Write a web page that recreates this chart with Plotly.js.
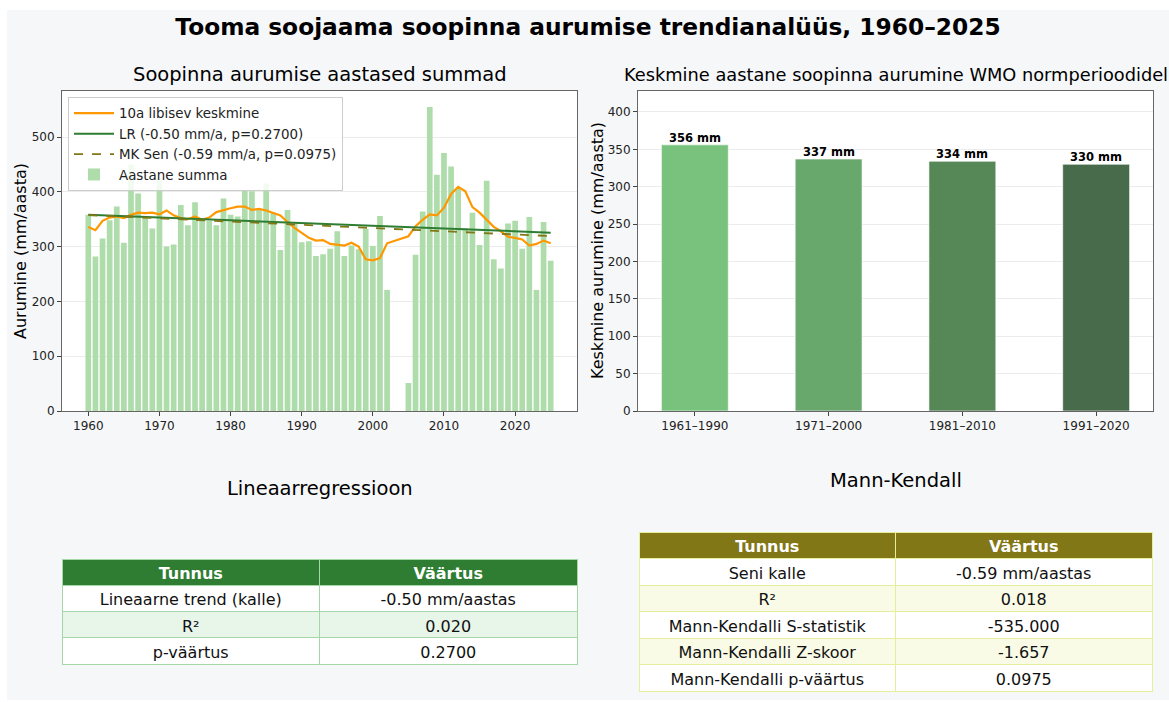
<!DOCTYPE html>
<html>
<head>
<meta charset="utf-8">
<script src="https://cdn.plot.ly/plotly-3.0.1.min.js"></script>
<style>
html,body{margin:0;padding:0;background:#ffffff;width:1169px;height:702px;overflow:hidden;}
#chart{position:absolute;left:7px;top:10px;width:1162px;height:690px;}
</style>
</head>
<body>
<div id="chart"></div>
<script>
// ---------- data ----------
const years = [1960,1961,1962,1963,1964,1965,1966,1967,1968,1969,
  1970,1971,1972,1973,1974,1975,1976,1977,1978,1979,
  1980,1981,1982,1983,1984,1985,1986,1987,1988,1989,
  1990,1991,1992,1993,1994,1995,1996,1997,1998,1999,
  2000,2001,2002,2003,2004,2005,2006,2007,2008,2009,
  2010,2011,2012,2013,2014,2015,2016,2017,2018,2019,
  2020,2021,2022,2023,2024,2025];
const annualSum = [358,282,315,348,373,307,450,397,355,333,
  425,300,304,376,339,381,351,347,339,388,
  358,355,404,401,367,415,362,294,367,345,
  308,310,283,286,296,328,283,302,295,332,
  301,356,221,null,null,51,285,364,555,431,
  471,446,405,333,362,303,420,277,260,342,
  347,296,354,221,345,274];
// 10-year moving average (years with data only)
const maYears = [1960,1961,1962,1963,1964,1965,1966,1967,1968,1969,
  1970,1971,1972,1973,1974,1975,1976,1977,1978,1979,
  1980,1981,1982,1983,1984,1985,1986,1987,1988,1989,
  1990,1991,1992,1993,1994,1995,1996,1997,1998,1999,
  2000,2001,2002,2005,2006,2007,2008,2009,
  2010,2011,2012,2013,2014,2015,2016,2017,2018,2019,
  2020,2021,2022,2023,2024,2025];
const movingAvg = [336,330,347,353,355,352,358,362,361,362,
  359,366,357,352,350,355,349,353,363,367,
  370,373,373,367,369,366,362,357,345,334,
  325,316,311,312,305,303,302,307,300,277,
  275,279,306,319,337,349,359,357,
  371,396,409,401,372,362,349,336,328,318,
  316,313,302,305,311,306];
const trendYears = [1960, 2025];
const lrTrend = [358, 325.5];
const senTrend = [357.5, 319.2];

const periods = ['1961–1990','1971–2000','1981–2010','1991–2020'];
const periodMeans = [356, 337, 334, 330];
const periodColors = ['#79c27d','#69a86d','#558757','#486b4c'];

const lrHeader = ['Tunnus','Väärtus'];
const lrNames = ['Lineaarne trend (kalle)','R²','p-väärtus'];
const lrValues = ['-0.50 mm/aastas','0.020','0.2700'];
const mkHeader = ['Tunnus','Väärtus'];
const mkNames = ['Seni kalle','R²','Mann-Kendalli S-statistik','Mann-Kendalli Z-skoor','Mann-Kendalli p-väärtus'];
const mkValues = ['-0.59 mm/aastas','0.018','-535.000','-1.657','0.0975'];

// ---------- helpers ----------
const W = 1162, H = 690;
const px = x => (x - 7) / W;
const py = y => 1 - (y - 10) / H;
const FONT = 'DejaVu Sans, sans-serif';

function tableTrace(header, names, vals, headColor, stripe, lineColor, x0, x1, yTop, rowH) {
  const fills = names.map((_, i) => (i % 2 === 1 ? stripe : '#ffffff'));
  return {type:'table', domain:{x:[px(x0), px(x1)], y:[0, py(yTop)]}, columnwidth:[1,1],
    header:{values:[[header[0]], [header[1]]], height:rowH, align:'center',
      fill:{color:headColor}, line:{color:lineColor, width:1},
      font:{family:FONT, size:16, color:'#ffffff', weight:'bold'}},
    cells:{values:[names, vals], height:rowH, align:'center',
      fill:{color:[fills, fills]}, line:{color:lineColor, width:1},
      font:{family:FONT, size:16, color:'#111111'}}};
}

const traces = [
  {type:'scatter', mode:'lines', x: maYears, y: movingAvg, name:'10a libisev keskmine',
   line:{color:'#ff9800', width:2.2}, xaxis:'x', yaxis:'y'},
  {type:'scatter', mode:'lines', x: trendYears, y: lrTrend, name:'LR (-0.50 mm/a, p=0.2700)',
   line:{color:'#2e7d32', width:2}, xaxis:'x', yaxis:'y'},
  {type:'scatter', mode:'lines', x: trendYears, y: senTrend, name:'MK Sen (-0.59 mm/a, p=0.0975)',
   line:{color:'#827717', width:1.8, dash:'dash'}, xaxis:'x', yaxis:'y'},
  {type:'bar', x: years, y: annualSum, name:'Aastane summa', width:0.8,
   marker:{color:'#aedcaa', line:{width:0}}, xaxis:'x', yaxis:'y'},
  {type:'bar', x: periods, y: periodMeans, width:0.5, showlegend:false,
   marker:{color: periodColors, line:{color:'rgba(255,255,255,0.6)', width:1}},
   xaxis:'x2', yaxis:'y2'},
  tableTrace(lrHeader, lrNames, lrValues, '#2e7d32', '#e8f5e9', '#a5d6a7', 62, 577, 559, 26.25),
  tableTrace(mkHeader, mkNames, mkValues, '#827717', '#f9fbe7', '#e6ee9c', 639, 1153, 532, 26.5)
];

const axisCommon = {showline:true, mirror:true, linecolor:'#666', linewidth:1, ticks:'outside', ticklen:4,
  tickcolor:'#444', tickfont:{family:FONT, size:12, color:'#222'}, zeroline:false, automargin:false};

const barLabels = periods.map((p, i) => ({
  text:'<b>' + periodMeans[i] + ' mm</b>', x:p, y:periodMeans[i], xref:'x2', yref:'y2',
  showarrow:false, xanchor:'center', yanchor:'bottom', yshift:-2,
  font:{family:FONT, size:11.5, color:'#000'}
}));

const layout = {
  width: W, height: H,
  margin:{l:0, r:0, t:0, b:0},
  paper_bgcolor:'#f6f7f9', plot_bgcolor:'#ffffff',
  font:{family:FONT, color:'#000'},
  title:{text:'<b>Tooma soojaama soopinna aurumise trendianalüüs, 1960–2025</b>',
    x:0.5, xanchor:'center', y:py(27), yanchor:'middle', yref:'container',
    font:{family:FONT, size:23.3, color:'#000'}},
  showlegend:true,
  legend:{x:px(68), y:py(97), xanchor:'left', yanchor:'top', bgcolor:'rgba(255,255,255,0.85)',
    bordercolor:'#cccccc', borderwidth:1, font:{family:FONT, size:13.4, color:'#222'},
    tracegroupgap:0, itemwidth:40},
  barmode:'overlay',
  xaxis: Object.assign({}, axisCommon, {domain:[px(62), px(577)], range:[1956.3, 2028.7],
    tickvals:[1960,1970,1980,1990,2000,2010,2020], showgrid:false, anchor:'y'}),
  yaxis: Object.assign({}, axisCommon, {domain:[py(411), py(91)], range:[0, 584], dtick:100,
    showgrid:true, gridcolor:'#ececec', anchor:'x'}),
  xaxis2: Object.assign({}, axisCommon, {domain:[px(638), px(1153)], range:[-0.425, 3.425],
    type:'category', showgrid:false, anchor:'y2'}),
  yaxis2: Object.assign({}, axisCommon, {domain:[py(411), py(91)], range:[0, 428], dtick:50,
    showgrid:true, gridcolor:'#ececec', anchor:'x2'}),
  annotations:[
    {text:'Soopinna aurumise aastased summad', x:px(320), y:py(75), xref:'paper', yref:'paper',
     showarrow:false, xanchor:'center', yanchor:'middle', font:{family:FONT, size:19.5, color:'#000'}},
    {text:'Keskmine aastane soopinna aurumine WMO normperioodidel', x:px(895.5), y:py(75), xref:'paper', yref:'paper',
     showarrow:false, xanchor:'center', yanchor:'middle', font:{family:FONT, size:17.8, color:'#000'}},
    {text:'Aurumine (mm/aasta)', x:px(20), y:py(251), xref:'paper', yref:'paper', textangle:-90,
     showarrow:false, xanchor:'center', yanchor:'middle', font:{family:FONT, size:16, color:'#000'}},
    {text:'Keskmine aurumine (mm/aasta)', x:px(597), y:py(251), xref:'paper', yref:'paper', textangle:-90,
     showarrow:false, xanchor:'center', yanchor:'middle', font:{family:FONT, size:16, color:'#000'}},
    {text:'Lineaarregressioon', x:px(320), y:py(489), xref:'paper', yref:'paper',
     showarrow:false, xanchor:'center', yanchor:'middle', font:{family:FONT, size:19.5, color:'#000'}},
    {text:'Mann-Kendall', x:px(896), y:py(480), xref:'paper', yref:'paper',
     showarrow:false, xanchor:'center', yanchor:'middle', font:{family:FONT, size:19.5, color:'#000'}}
  ].concat(barLabels)
};

Plotly.newPlot('chart', traces, layout, {displayModeBar:false, staticPlot:true});
</script>
</body>
</html>
